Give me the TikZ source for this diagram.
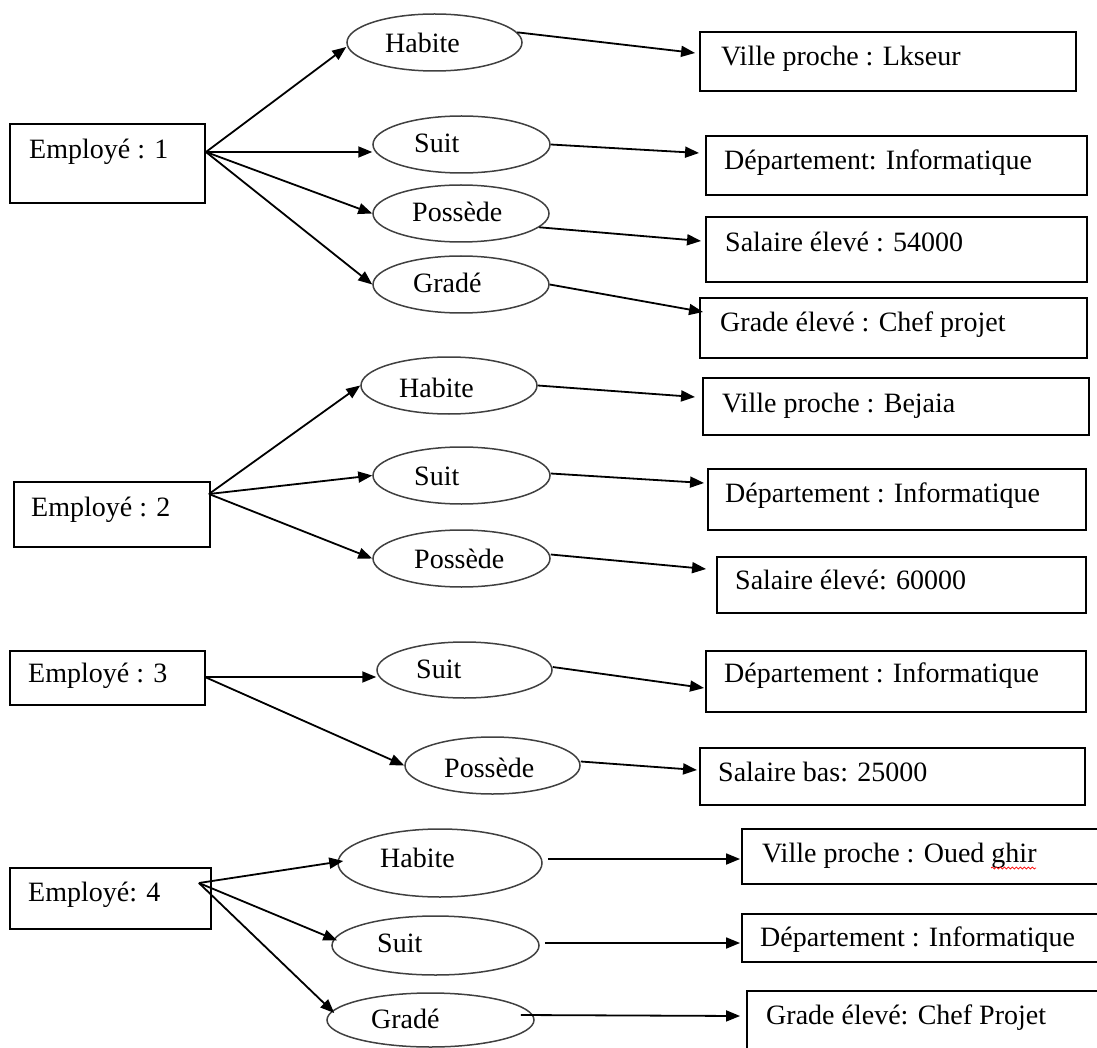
\documentclass[tikz,border=0pt]{standalone}
\usepackage{fontspec}
\setmainfont{Liberation Serif}
\usetikzlibrary{arrows.meta,shapes.geometric,decorations.pathmorphing}
\begin{document}
\begin{tikzpicture}[x=1pt,y=-1pt,
  box/.style={draw, rectangle, line width=1.9pt, inner sep=0pt},
  rel/.style={draw=black!75, ellipse, line width=1.5pt, inner sep=0pt},
  lbl/.style={anchor=base west, inner sep=0pt, font=\fontsize{28}{32}\selectfont},
  arr/.style={line width=1.8pt, -{Triangle[length=14pt,width=11pt]}}]
\useasboundingbox (0,0) rectangle (1097,1048);

% ---------- employees ----------
\node[box, minimum width=195pt, minimum height=79pt] (e1) at (107.5,163.5) {};
\node[lbl] (e1t) at (29,159) {Employé : 1};
\node[box, minimum width=196pt, minimum height=65pt] (e2) at (112,514.5) {};
\node[lbl] (e2t) at (31,516) {Employé : 2};
\node[box, minimum width=195pt, minimum height=54pt] (e3) at (107.5,678) {};
\node[lbl] (e3t) at (28,682) {Employé : 3};
\node[box, minimum width=201pt, minimum height=61pt] (e4) at (110.5,898.5) {};
\node[lbl] (e4t) at (28,901) {Employé: 4};

% ---------- relations ----------
\node[rel, minimum width=175pt, minimum height=57pt] (h1) at (434.5,42.5) {};
\node[lbl] (h1t) at (385,53) {Habite};
\node[rel, minimum width=177pt, minimum height=57pt] (s1) at (461.5,144.5) {};
\node[lbl] (s1t) at (414,153) {Suit};
\node[rel, minimum width=176pt, minimum height=57pt] (p1) at (461,213.5) {};
\node[lbl] (p1t) at (412,222) {Possède};
\node[rel, minimum width=176pt, minimum height=57pt] (g1) at (461,284.5) {};
\node[lbl] (g1t) at (413,293) {Gradé};

\node[rel, minimum width=176pt, minimum height=57pt] (h2) at (449,385.5) {};
\node[lbl] (h2t) at (399,397) {Habite};
\node[rel, minimum width=177pt, minimum height=57pt] (s2) at (461.5,475.5) {};
\node[lbl] (s2t) at (414,485) {Suit};
\node[rel, minimum width=177pt, minimum height=57pt] (p2) at (461.5,558.5) {};
\node[lbl] (p2t) at (414,568) {Possède};

\node[rel, minimum width=175pt, minimum height=56pt] (s3) at (464.5,670) {};
\node[lbl] (s3t) at (416,678) {Suit};
\node[rel, minimum width=175pt, minimum height=57pt] (p3) at (492.5,765.5) {};
\node[lbl] (p3t) at (444,777) {Possède};

\node[rel, minimum width=204pt, minimum height=68pt] (h4) at (440,863) {};
\node[lbl] (h4t) at (380,867) {Habite};
\node[rel, minimum width=207pt, minimum height=59pt] (s4) at (435.5,945.5) {};
\node[lbl] (s4t) at (377,952) {Suit};
\node[rel, minimum width=207pt, minimum height=54pt] (g4) at (430.5,1020) {};
\node[lbl] (g4t) at (371,1028) {Gradé};

% ---------- values ----------
\node[box, minimum width=376pt, minimum height=59pt] (r1) at (888,61.5) {};
\node[lbl] (r1t) at (721,66) {Ville proche : Lkseur};
\node[box, minimum width=381pt, minimum height=59pt] (r2) at (896.5,165.5) {};
\node[lbl] (r2t) at (724,170) {Département: Informatique};
\node[box, minimum width=381pt, minimum height=65pt] (r3) at (896.5,249.5) {};
\node[lbl] (r3t) at (725,252) {Salaire élevé : 54000};
\node[box, minimum width=387pt, minimum height=60pt] (r4) at (893.5,328) {};
\node[lbl] (r4t) at (720,332) {Grade élevé : Chef projet};

\node[box, minimum width=386pt, minimum height=57pt] (r5) at (896,406.5) {};
\node[lbl] (r5t) at (722,412) {Ville proche : Bejaia};
\node[box, minimum width=378pt, minimum height=61pt] (r6) at (897,499.5) {};
\node[lbl] (r6t) at (725,502) {Département : Informatique};
\node[box, minimum width=369pt, minimum height=56pt] (r7) at (901.5,585) {};
\node[lbl] (r7t) at (735,589) {Salaire élevé: 60000};

\node[box, minimum width=380pt, minimum height=61pt] (r8) at (896,681.5) {};
\node[lbl] (r8t) at (724,682) {Département : Informatique};
\node[box, minimum width=385pt, minimum height=57pt] (r9) at (892.5,776.5) {};
\node[lbl] (r9t) at (718,781) {Salaire bas: 25000};

\node[box, minimum width=360pt, minimum height=55pt] (r10) at (922,856.5) {};
\node[lbl] (r10t) at (762,862) {Ville proche : Oued ghir};
\node[box, minimum width=358pt, minimum height=48pt] (r11) at (921,938) {};
\node[lbl] (r11t) at (760,946) {Département : Informatique};
\node[box, minimum width=353pt, minimum height=69pt] (r12) at (923.5,1025.5) {};
\node[lbl] (r12t) at (766,1024) {Grade élevé: Chef Projet};

% spell-check squiggle under "ghir"
\draw[red, line width=0.7pt, decorate, decoration={snake, amplitude=1pt, segment length=4pt}]
  ([xshift=229pt,yshift=-6pt]r10t.base west) -- ++(45pt,0);

% ---------- employee -> relation ----------
\draw[arr] ([yshift=11.5pt]e1.east) -- ([yshift=-4.5pt]h1.west);
\draw[arr] ([yshift=11.5pt]e1.east) -- ([yshift=-7.5pt]s1.west);
\draw[arr] ([yshift=11.5pt]e1.east) -- (p1.west);
\draw[arr] ([yshift=11.5pt]e1.east) -- (g1.west);

\draw[arr] ([xshift=-2pt,yshift=20.5pt]e2.east) -- (h2.west);
\draw[arr] ([xshift=-2pt,yshift=20.5pt]e2.east) -- (s2.west);
\draw[arr] ([xshift=-2pt,yshift=20.5pt]e2.east) -- (p2.west);

\draw[arr] ([xshift=-1pt,yshift=1pt]e3.east) -- ([yshift=-7pt]s3.west);
\draw[arr] ([xshift=-1pt,yshift=1pt]e3.east) -- (p3.west);

\draw[arr] ([xshift=-13pt,yshift=15.5pt]e4.east) -- ([xshift=6pt,yshift=2pt]h4.west);
\draw[arr] ([xshift=-13pt,yshift=15.5pt]e4.east) -- ([xshift=6pt,yshift=5pt]s4.west);
\draw[arr] ([xshift=-13pt,yshift=15.5pt]e4.east) -- ([xshift=8pt,yshift=7pt]g4.west);

% ---------- relation -> value ----------
\draw[arr] (h1.7) -- ([xshift=-4pt,yshift=8.5pt]r1.west);
\draw[arr] (s1.east) -- ([xshift=-6pt,yshift=12.5pt]r2.west);
\draw[arr] (p1.-10) -- ([xshift=-4pt,yshift=8.5pt]r3.west);
\draw[arr] (g1.east) -- ([xshift=4pt,yshift=16pt]r4.west);

\draw[arr] (h2.east) -- ([xshift=-7pt,yshift=9.5pt]r5.west);
\draw[arr] ([yshift=2pt]s2.east) -- ([xshift=-3pt,yshift=16.5pt]r6.west);
\draw[arr] ([yshift=4pt]p2.east) -- ([xshift=-10pt,yshift=16pt]r7.west);

\draw[arr] ([yshift=3pt]s3.east) -- ([xshift=-1pt,yshift=-6.5pt]r8.west);
\draw[arr] ([yshift=4pt]p3.east) -- ([xshift=-2pt,yshift=6.5pt]r9.west);

\draw[arr] ([xshift=5pt,yshift=4pt]h4.east) -- ([xshift=-1pt,yshift=-2.5pt]r10.west);
\draw[arr] ([xshift=5pt,yshift=2.5pt]s4.east) -- ([xshift=-1pt,yshift=-5pt]r11.west);
\draw[arr] ([xshift=-14pt,yshift=5pt]g4.east) -- ([xshift=-6pt,yshift=9.5pt]r12.west);
\end{tikzpicture}
\end{document}
